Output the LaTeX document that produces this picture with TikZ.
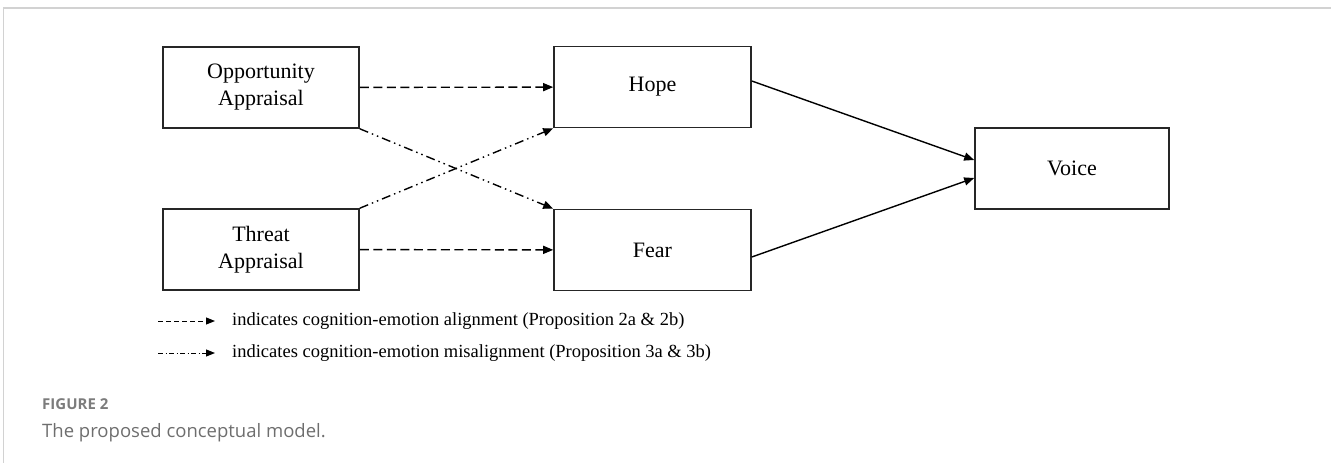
\documentclass[tikz,border=0pt]{standalone}
\usepackage{fontspec}
\setmainfont{Liberation Serif}
\newfontfamily\captionfont{Open Sans}
\usetikzlibrary{
    arrows.meta,
    calc
}
\definecolor{framegray}{HTML}{D2D2D2}
\definecolor{capgray}{HTML}{6E6E6E}
\tikzset {
    box/.style = {draw = black!85, line width = 1.6pt, minimum width = 196pt,
        minimum height = 81pt, align = center, inner sep = 2pt,
        font = \fontsize{22}{27}\selectfont},
    link/.style = {line width = 1.4pt, -{Triangle[length = 10pt, width = 8pt]}},
    align dash/.style = {link, dash pattern = on 9pt off 4.5pt},
    misalign dash/.style = {link,
        dash pattern = on 9pt off 4pt on 1.5pt off 4pt on 1.5pt off 4pt},
    key/.style = {anchor = west, inner sep = 0pt,
        font = \fontsize{18.5}{22}\selectfont}
}

\begin{document}
\begin{tikzpicture}[x = 1pt, y = -1pt]
    \useasboundingbox (0, 0) rectangle (1331, 463);
    % frame
    \draw [framegray, line width = 2pt] (3, 8) -- (1331, 8);
    \draw [framegray, line width = 1pt] (3, 8) -- (3, 463);
    % constructs
    \node (opp) [box] at (261, 87.5) {Opportunity\\Appraisal};
    \node (threat) [box] at (261, 249.5) {Threat\\Appraisal};
    \node (hope) [box, minimum width = 197pt] at (652.5, 87) {Hope};
    \node (fear) [box, minimum width = 197pt] at (652.5, 250) {Fear};
    \node (voice) [box, minimum width = 194pt] at (1072, 168.5) {Voice};
    % paths
    \draw [align dash] (opp) -- (hope);
    \draw [align dash] (threat) -- (fear);
    \draw [misalign dash] (opp.south east) -- (fear.north west);
    \draw [misalign dash] (threat.north east) -- (hope.south west);
    \draw [link] ([yshift = 6pt]hope.east) -- ([yshift = 8.5pt]voice.west);
    \draw [link] ([yshift = -7pt]fear.east) -- ([yshift = -9.5pt]voice.west);
    % legend
    \coordinate (k1a) at (158, 321);
    \coordinate (k1b) at (215, 321);
    \coordinate (k2a) at (158, 353);
    \coordinate (k2b) at (215, 353);
    \draw [align dash, line width = 1pt, dash pattern = on 5pt off 3pt,
        -{Triangle[length = 9pt, width = 7pt]}] (k1a) -- (k1b);
    \draw [misalign dash, line width = 1pt,
        dash pattern = on 5pt off 2.5pt on 1pt off 2.5pt,
        -{Triangle[length = 9pt, width = 7pt]}] (k2a) -- (k2b);
    \node (t1) [key] at (232, 321)
        {indicates cognition-emotion alignment (Proposition 2a \& 2b)};
    \node (t2) [key] at (232, 353)
        {indicates cognition-emotion misalignment (Proposition 3a \& 3b)};
    % caption
    \node (fig) [anchor = base west, inner sep = 0pt, text = capgray!90,
        font = \captionfont\bfseries\fontsize{15}{17}\selectfont]
        at (42, 409) {FIGURE 2};
    \node (cap) [anchor = base west, inner sep = 0pt, text = capgray,
        font = \captionfont\fontsize{18.5}{22}\selectfont]
        at (42, 437) {The proposed conceptual model.};
\end{tikzpicture}
\end{document}
